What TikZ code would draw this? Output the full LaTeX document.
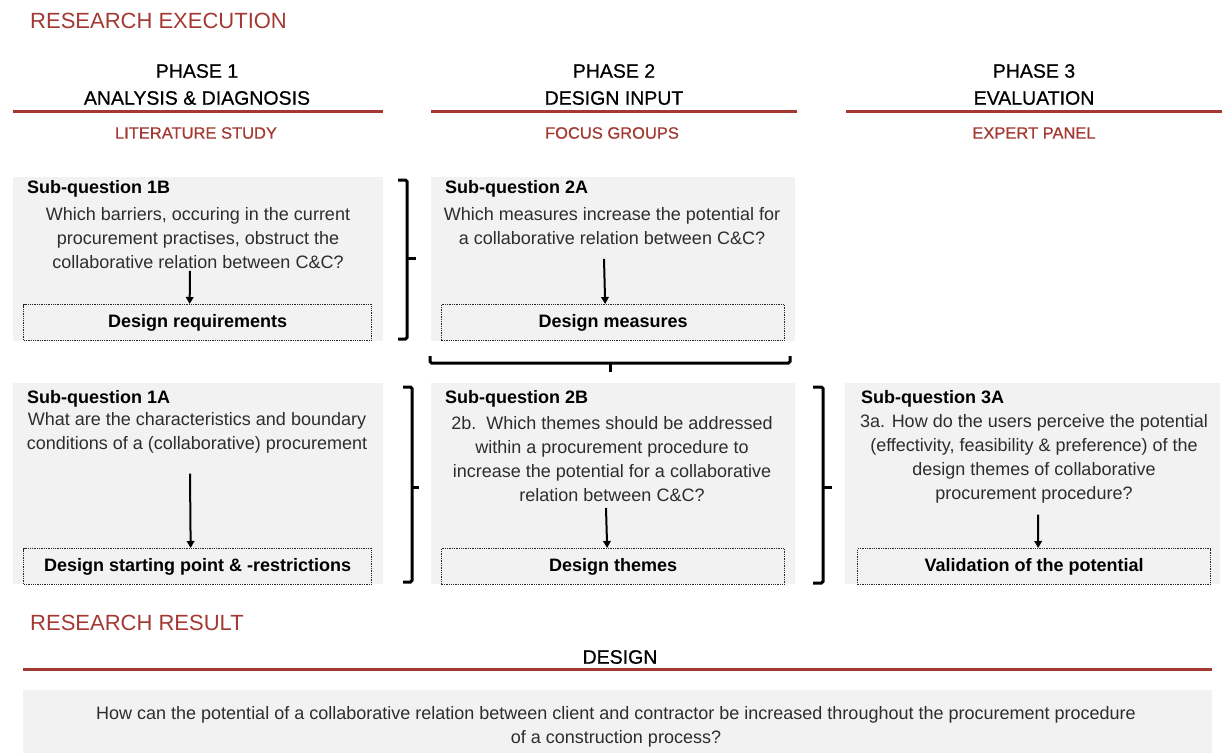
\documentclass[tikz,border=0pt]{standalone}
\usepackage{fontspec}
\setmainfont{Liberation Sans}
\newfontfamily\mediumfont{Liberation Sans}[FakeBold=0.6]
\usetikzlibrary{arrows.meta}
\definecolor{accent}{RGB}{163,57,50}
\definecolor{panel}{RGB}{242,242,242}
\definecolor{body}{RGB}{45,45,45}
\begin{document}
\begin{tikzpicture}[x=1pt,y=-1pt,
  sectiontitle/.style={anchor=west,inner sep=0pt,text=accent,font=\fontsize{22}{26}\selectfont},
  phasehead/.style={align=center,inner sep=0pt,font=\mediumfont\fontsize{19.5}{27}\selectfont},
  method/.style={inner sep=0pt,text=accent,font=\mediumfont\fontsize{16.5}{19}\selectfont},
  panelbox/.style={anchor=north west,fill=panel,draw=none,inner sep=0pt},
  sqtitle/.style={anchor=west,inner sep=0pt,font=\bfseries\fontsize{18}{21}\selectfont},
  question/.style={align=center,inner sep=0pt,text=body,font=\fontsize{18}{24}\selectfont},
  outcome/.style={anchor=north west,draw=black!85,densely dotted,line width=1.3pt,inner sep=0pt,
    font=\bfseries\fontsize{18}{21}\selectfont},
  rule/.style={draw=accent,line width=3pt},
  brace/.style={draw=black,line width=3pt,rounded corners=1.5pt},
  arr/.style={draw=black,line width=2pt,-{Triangle[length=7pt,width=7.5pt]}}
]
\useasboundingbox (0,0) rectangle (1226,753);

% ---- Research execution header ----
\node[sectiontitle] (exec) at (30,21) {RESEARCH EXECUTION};

\node[phasehead] (ph1) at (197,84.5) {PHASE 1\\ANALYSIS \& DIAGNOSIS};
\node[phasehead] (ph2) at (614,84.5) {PHASE 2\\DESIGN INPUT};
\node[phasehead] (ph3) at (1034,84.5) {PHASE 3\\EVALUATION};

\draw[rule] (13,111) -- (383,111);
\draw[rule] (431,111) -- (797,111);
\draw[rule] (846,111) -- (1222,111);

\node[method] (m1) at (196,133) {LITERATURE STUDY};
\node[method] (m2) at (612,133) {FOCUS GROUPS};
\node[method] (m3) at (1034,133) {EXPERT PANEL};

% ---- Upper row: sub-questions 1B and 2A ----
\node[panelbox,minimum width=370pt,minimum height=164pt] (p1B) at (13,177) {};
\node[sqtitle] (t1B) at (27,189) {Sub-question 1B};
\node[question] (q1B) at (198,238) {Which barriers, occuring in the current\\procurement practises, obstruct the\\collaborative relation between C\&C?};
\node[outcome,minimum width=348pt,minimum height=36pt] (o1B) at (23,304) {Design requirements};
\draw[arr] ([xshift=-8pt]q1B.south) ++(0,2) -- ([xshift=-8pt]o1B.north);

\node[panelbox,minimum width=364pt,minimum height=164pt] (p2A) at (431,177) {};
\node[sqtitle] (t2A) at (445,189) {Sub-question 2A};
\node[question] (q2A) at (612,226) {Which measures increase the potential for\\a collaborative relation between C\&C?};
\node[outcome,minimum width=343pt,minimum height=36pt] (o2A) at (441,304) {Design measures};
\draw[arr] ([xshift=-8pt]q2A.south) ++(0,14) -- ([xshift=-8pt]o2A.north);

% ---- Lower row: sub-questions 1A, 2B and 3A ----
\node[panelbox,minimum width=370pt,minimum height=201pt] (p1A) at (13,383) {};
\node[sqtitle] (t1A) at (27,399) {Sub-question 1A};
\node[question] (q1A) at (197,433) {What are the characteristics and boundary\\conditions of a (collaborative) procurement};
\node[outcome,minimum width=348pt,minimum height=36pt] (o1A) at (23,548) {Design starting point \& -restrictions};
\draw[arr] ([xshift=-7pt]q1A.south) ++(0,20) -- ([xshift=-7pt]o1A.north);

\node[panelbox,minimum width=364pt,minimum height=201pt] (p2B) at (431,383) {};
\node[sqtitle] (t2B) at (445,399) {Sub-question 2B};
\node[question] (q2B) at (612,459) {2b.\ \ Which themes should be addressed\\within a procurement procedure to\\increase the potential for a collaborative\\relation between C\&C?};
\node[outcome,minimum width=343pt,minimum height=36pt] (o2B) at (441,548) {Design themes};
\draw[arr] ([xshift=-6pt]q2B.south) ++(0,6) -- ([xshift=-6pt]o2B.north);

\node[panelbox,minimum width=375pt,minimum height=201pt] (p3A) at (845,383) {};
\node[sqtitle] (t3A) at (861,399) {Sub-question 3A};
\node[question] (q3A) at (1034,459) {3a. How do the users perceive the potential\\(effectivity, feasibility \& preference) of the\\design themes of collaborative\\procurement procedure?};
\node[outcome,minimum width=353pt,minimum height=36pt] (o3A) at (857,548) {Validation of the potential};
\draw[arr] ([xshift=4pt]q3A.south) ++(0,11) -- ([xshift=4pt]o3A.north);

% ---- Brackets grouping the sub-questions ----
\draw[brace] (398,180) -- (407,180) -- (407,339) -- (398,339);
\draw[brace] (407,258) -- (416,258);

\draw[brace] (430,356) -- (430,363) -- (790,363) -- (790,356);
\draw[brace] (610,363) -- (610,372);

\draw[brace] (403,387) -- (412,387) -- (412,582) -- (403,582);
\draw[brace] (412,487) -- (419,487);

\draw[brace] (813,387) -- (823,387) -- (823,583) -- (813,583);
\draw[brace] (823,487) -- (832,487);

% ---- Research result ----
\node[sectiontitle] (result) at (30,623) {RESEARCH RESULT};
\node[inner sep=0pt,font=\mediumfont\fontsize{19.5}{22}\selectfont] (design) at (620,657) {DESIGN};
\draw[rule] (23,669) -- (1212,669);
\node[panelbox,minimum width=1189pt,minimum height=63pt] (pmain) at (23,690) {};
\node[question] (qmain) at (616,726.5) {How can the potential of a collaborative relation between client and contractor be increased throughout the procurement procedure\\of a construction process?};

\end{tikzpicture}
\end{document}
